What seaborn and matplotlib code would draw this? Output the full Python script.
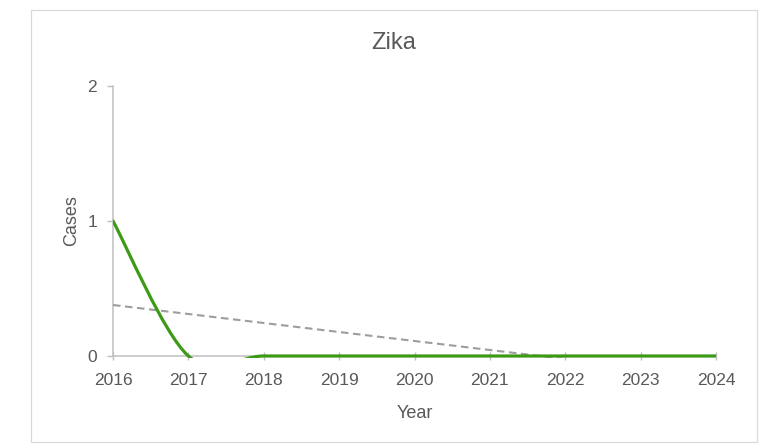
import numpy as np
import pandas as pd
import matplotlib
matplotlib.use("Agg")
import matplotlib.pyplot as plt
from matplotlib.path import Path
from matplotlib.patches import PathPatch, Rectangle
import seaborn as sns

# Reported Zika cases per year
years = [2016, 2017, 2018, 2019, 2020, 2021, 2022, 2023, 2024]
cases = [1, 0, 0, 0, 0, 0, 0, 0, 0]
y_ticks = [0, 1, 2]

df = pd.DataFrame({"Year": years, "Cases": cases})

sns.set_style("white")
plt.rcParams["font.family"] = ["Liberation Sans", "DejaVu Sans"]

TEXT = "#595959"
AXIS = "#bfbfbf"
GREEN = "#3c9a16"
TREND = "#9d9d9d"

W, H = 762, 448
fig = plt.figure(figsize=(W / 100, H / 100), dpi=100)
ax = fig.add_axes([113 / W, 1 - 356 / H, (716 - 113) / W, (356 - 86) / H])

# light chart-area frame
fig.add_artist(Rectangle((31 / W, 1 - 442 / H), (757 - 31) / W, (442 - 10) / H,
                         transform=fig.transFigure, fill=False,
                         edgecolor="#d9d9d9", lw=0.9))

# linear trend (dashed)
sns.regplot(data=df, x="Year", y="Cases", scatter=False, ci=None, ax=ax,
            line_kws=dict(color=TREND, lw=1.5, linestyle=(0, (3.6, 2.2)), zorder=3))
trend_line = ax.lines[-1]

# smoothed series line (Catmull-Rom style Bezier through the data points)
pts = df[["Year", "Cases"]].to_numpy(dtype=float)
padded = np.vstack([pts[0], pts, pts[-1]])
verts = [pts[0]]
codes = [Path.MOVETO]
for i in range(len(pts) - 1):
    p_prev, p0, p1, p_next = padded[i], padded[i + 1], padded[i + 2], padded[i + 3]
    verts += [p0 + (p1 - p_prev) / 6, p1 - (p_next - p0) / 6, p1]
    codes += [Path.CURVE4] * 3
curve = PathPatch(Path(verts, codes), fill=False, edgecolor=GREEN, lw=2.3,
                  capstyle="round", joinstyle="round", zorder=4)
ax.add_patch(curve)

# clip both lines at the plot area, leaving room for the stroke on the zero line
ax_h_px = 356 - 86
clip = Rectangle((0, -1.6 / ax_h_px), 1, 1 + 3.2 / ax_h_px, transform=ax.transAxes)
curve.set_clip_path(clip)
trend_line.set_clip_path(clip)

ax.set_xlim(2016, 2024)
ax.set_ylim(0, 2)
ax.set_xticks(years)
ax.set_yticks(y_ticks)

sns.despine(ax=ax)
for side in ("left", "bottom"):
    ax.spines[side].set_color(AXIS)
    ax.spines[side].set_linewidth(1.1)
    ax.spines[side].set_zorder(2)

ax.tick_params(axis="y", left=True, direction="out", length=4.5, width=1,
               color=AXIS, pad=7, labelsize=12.5, labelcolor=TEXT)
ax.tick_params(axis="x", bottom=True, direction="inout", length=6, width=1,
               color=AXIS, pad=9.5, labelsize=12.5, labelcolor=TEXT)

ax.set_xlabel("Year", fontsize=13, color=TEXT, labelpad=12)
ax.set_ylabel("Cases", fontsize=13, color=TEXT, labelpad=5)

fig.text(394 / W, 1 - 43 / H, "Zika", ha="center", va="center",
         fontsize=17, color=TEXT)

fig.savefig("out.png", dpi=100)
